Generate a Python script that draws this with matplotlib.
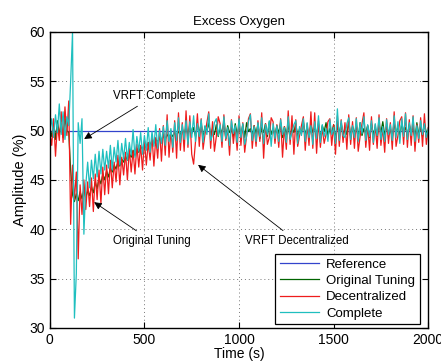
import numpy as np
import matplotlib.pyplot as plt

plt.rcParams['font.family'] = ['Liberation Sans', 'DejaVu Sans']

# Time axis, one sample every 10 s
time = np.arange(0, 2001, 10)

# Reference set point
ref_time = [0, 2000]
ref_values = [50.0, 50.0]

# Original tuning response
original = [
    50.2, 49.4, 50.8, 49.1, 51.0, 49.6, 50.7, 49.3, 51.2, 50.0,
    49.8, 46.0, 43.5, 42.8, 43.6, 42.9, 43.8, 43.1, 44.0, 43.2,
    43.9, 43.4, 44.3, 43.7, 44.8, 44.1, 45.2, 44.6, 45.6, 45.0,
    45.9, 45.3, 46.2, 45.8, 46.5, 46.1, 46.9, 46.4, 47.1, 46.8,
    47.4, 47.0, 47.7, 47.3, 48.0, 47.5, 48.2, 47.8, 48.4, 48.1,
    48.6, 48.2, 48.8, 48.5, 49.0, 48.7, 49.2, 48.8, 49.3, 49.0,
    49.5, 49.1, 49.6, 49.3, 49.7, 49.4, 49.8, 49.5, 49.9, 49.6,
    50.2, 49.6, 50.4, 49.5, 50.6, 49.7, 50.3, 49.4, 50.5, 49.8,
    50.7, 49.3, 50.4, 49.9, 50.8, 49.5, 50.2, 49.6, 50.6, 49.4,
    50.3, 49.7, 50.9, 49.2, 50.5, 49.8, 50.1, 49.4, 50.7, 49.6,
    50.4, 49.5, 50.6, 49.3, 50.8, 49.9, 50.2, 49.5, 50.5, 49.7,
    50.6, 49.2, 50.3, 49.8, 50.7, 49.4, 50.9, 49.6, 50.2, 49.5,
    50.5, 49.7, 50.8, 49.3, 50.4, 49.6, 50.6, 49.2, 50.3, 49.8,
    50.7, 49.4, 50.2, 49.7, 50.9, 49.5, 50.4, 49.3, 50.6, 49.8,
    50.3, 49.6, 50.7, 49.2, 50.5, 49.9, 50.8, 49.4, 50.2, 49.7,
    50.6, 49.3, 50.4, 49.8, 50.7, 49.5, 50.3, 49.6, 50.9, 49.4,
    50.4, 49.7, 50.6, 49.2, 50.8, 49.5, 50.2, 49.8, 50.5, 49.3,
    50.7, 49.6, 50.3, 49.4, 50.6, 49.8, 50.9, 49.5, 50.4, 49.7,
    50.2, 49.3, 50.8, 49.6, 50.5, 49.4, 50.7, 49.9, 50.3, 49.5,
    50.6, 49.7, 50.4, 49.2, 50.8, 49.6, 50.3, 49.4, 50.7, 49.8,
    50.0,
]

# VRFT decentralized response
decentralized = [
    49.8, 48.5, 51.2, 47.4, 50.6, 49.0, 51.9, 48.8, 52.4, 49.5,
    53.0, 40.5, 46.5, 43.0, 45.8, 37.0, 44.5, 41.5, 45.0, 42.0,
    44.8, 42.3, 45.2, 41.8, 45.6, 43.0, 46.0, 42.6, 46.3, 43.5,
    46.5, 43.6, 47.0, 44.2, 46.8, 44.8, 47.5, 44.5, 47.3, 45.5,
    47.8, 45.0, 48.2, 45.8, 48.0, 45.6, 48.6, 46.3, 48.5, 46.0,
    49.0, 46.5, 48.8, 47.0, 49.5, 46.4, 49.3, 47.2, 50.2, 46.9,
    50.5, 47.5, 51.6, 47.3, 50.0, 47.8, 51.0, 47.2, 51.8, 48.0,
    50.8, 47.9, 52.0, 48.3, 51.5, 47.6, 46.6, 48.9, 51.7, 48.4,
    51.2, 48.1, 49.6, 50.8, 51.9, 48.2, 50.9, 47.9, 49.4, 51.4,
    50.7, 48.3, 51.6, 49.0, 50.2, 47.5, 51.1, 48.7, 50.4, 48.0,
    51.5, 48.5, 50.8, 47.8, 49.5, 51.2, 51.7, 48.2, 50.5, 48.4,
    51.0, 48.9, 51.8, 47.2, 50.7, 48.6, 49.3, 51.3, 50.9, 48.7,
    50.6, 48.3, 51.2, 47.3, 50.4, 48.1, 52.0, 48.6, 51.5, 47.6,
    51.1, 48.4, 49.5, 50.5, 51.4, 48.0, 50.7, 48.5, 51.9, 48.2,
    51.8, 47.7, 51.0, 48.3, 50.3, 48.7, 49.6, 50.9, 51.2, 48.5,
    50.6, 47.6, 51.5, 48.4, 51.1, 48.8, 50.8, 48.1, 51.6, 48.6,
    50.9, 48.2, 51.3, 47.9, 49.4, 50.7, 51.8, 48.3, 50.5, 48.0,
    51.4, 48.6, 50.6, 48.2, 51.6, 48.5, 50.3, 47.8, 51.2, 48.7,
    50.8, 48.1, 51.9, 48.4, 49.5, 51.0, 51.4, 48.6, 51.8, 48.3,
    51.1, 48.5, 51.5, 47.9, 50.6, 48.8, 51.3, 48.4, 51.7, 48.6,
    50.3,
]

# VRFT complete response
complete = [
    50.0, 51.2, 49.3, 51.6, 49.8, 52.7, 49.6, 51.9, 49.1, 51.4,
    50.5, 55.0, 60.0, 31.0, 35.5, 50.8, 48.7, 51.2, 39.5, 44.5,
    46.8, 44.2, 47.0, 45.1, 47.6, 45.3, 47.9, 45.6, 48.1, 46.0,
    47.9, 46.2, 48.5, 46.0, 48.3, 46.8, 49.0, 46.5, 48.7, 47.1,
    49.2, 47.0, 48.8, 47.5, 50.1, 47.3, 49.4, 47.9, 49.8, 47.6,
    49.5, 48.0, 50.3, 47.8, 49.9, 48.4, 50.6, 48.2, 50.0, 48.7,
    50.4, 48.5, 51.0, 48.9, 50.2, 48.3, 50.8, 49.0, 51.3, 48.8,
    50.6, 49.1, 51.0, 48.6, 50.9, 49.3, 51.5, 48.9, 50.7, 49.4,
    51.1, 48.8, 50.5, 49.6, 51.7, 49.0, 49.6, 50.8, 51.2, 49.5,
    50.6, 48.9, 51.4, 49.2, 50.3, 48.5, 51.0, 49.7, 50.5, 48.8,
    51.2, 49.3, 50.7, 48.6, 49.4, 50.9, 51.6, 49.0, 50.4, 48.9,
    50.8, 49.4, 51.3, 48.7, 50.6, 49.6, 51.0, 48.4, 50.7, 49.2,
    50.5, 48.9, 51.1, 49.6, 50.3, 48.8, 51.4, 49.1, 49.8, 50.6,
    51.0, 48.7, 50.4, 49.5, 51.2, 48.9, 50.8, 49.3, 50.5, 48.6,
    50.9, 49.2, 51.5, 48.8, 50.6, 49.4, 50.2, 48.9, 51.1, 49.6,
    50.3, 48.7, 52.2, 49.0, 51.0, 49.5, 49.3, 50.7, 51.3, 49.1,
    50.5, 49.3, 51.2, 48.9, 50.8, 49.7, 51.4, 49.0, 50.6, 49.4,
    51.0, 48.8, 50.7, 49.5, 51.3, 49.1, 50.4, 48.9, 51.1, 49.6,
    50.6, 49.0, 51.5, 49.3, 50.9, 48.7, 51.2, 49.4, 51.7, 49.1,
    50.8, 49.5, 51.4, 48.9, 50.5, 49.2, 51.0, 49.6, 50.7, 49.3,
    50.2,
]

fig = plt.figure(figsize=(4.41, 3.62), dpi=100)
ax = fig.add_axes([0.113, 0.094, 0.858, 0.818])

ax.plot(ref_time, ref_values, color='#3344cc', lw=0.9, label='Reference')
ax.plot(time, original, color='#006400', lw=0.9, label='Original Tuning')
ax.plot(time, decentralized, color='#ee1c1c', lw=0.9, label='Decentralized')
ax.plot(time, complete, color='#1fbfbf', lw=0.9, label='Complete')

ax.set_xlim(0, 2000)
ax.set_ylim(30, 60)
ax.set_xticks([0, 500, 1000, 1500, 2000])
ax.set_yticks([30, 35, 40, 45, 50, 55, 60])
ax.tick_params(direction='in', top=True, right=True, labelsize=10, length=4)
ax.grid(True, linestyle=(0, (1, 3)), color='#777777', lw=0.7)
for s in ax.spines.values():
    s.set_linewidth(1.0)

ax.set_title('Excess Oxygen', fontsize=9.5, pad=5)
ax.set_xlabel('Time (s)', fontsize=10, labelpad=0)
ax.set_ylabel('Amplitude (%)', fontsize=10.5, labelpad=2)

arrow = dict(arrowstyle='-|>', color='k', lw=0.6, mutation_scale=11)
ax.annotate('VRFT Complete', xy=(169, 49.0), xytext=(333, 53.5),
            fontsize=8.3, va='center', ha='left', arrowprops=arrow)
ax.annotate('Original Tuning', xy=(222, 42.9), xytext=(333, 38.8),
            fontsize=8.3, va='center', ha='left', arrowprops=arrow)
ax.annotate('VRFT Decentralized', xy=(772, 46.7), xytext=(1030, 38.8),
            fontsize=8.3, va='center', ha='left', arrowprops=arrow)

leg = ax.legend(loc='lower right', bbox_to_anchor=(0.977, 0.013),
                borderaxespad=0, fontsize=9.5, handlelength=3.0,
                fancybox=False, framealpha=1, edgecolor='k',
                labelspacing=0.3, borderpad=0.35, handletextpad=0.5)
leg.get_frame().set_linewidth(0.9)

fig.savefig('out.png', dpi=100)
